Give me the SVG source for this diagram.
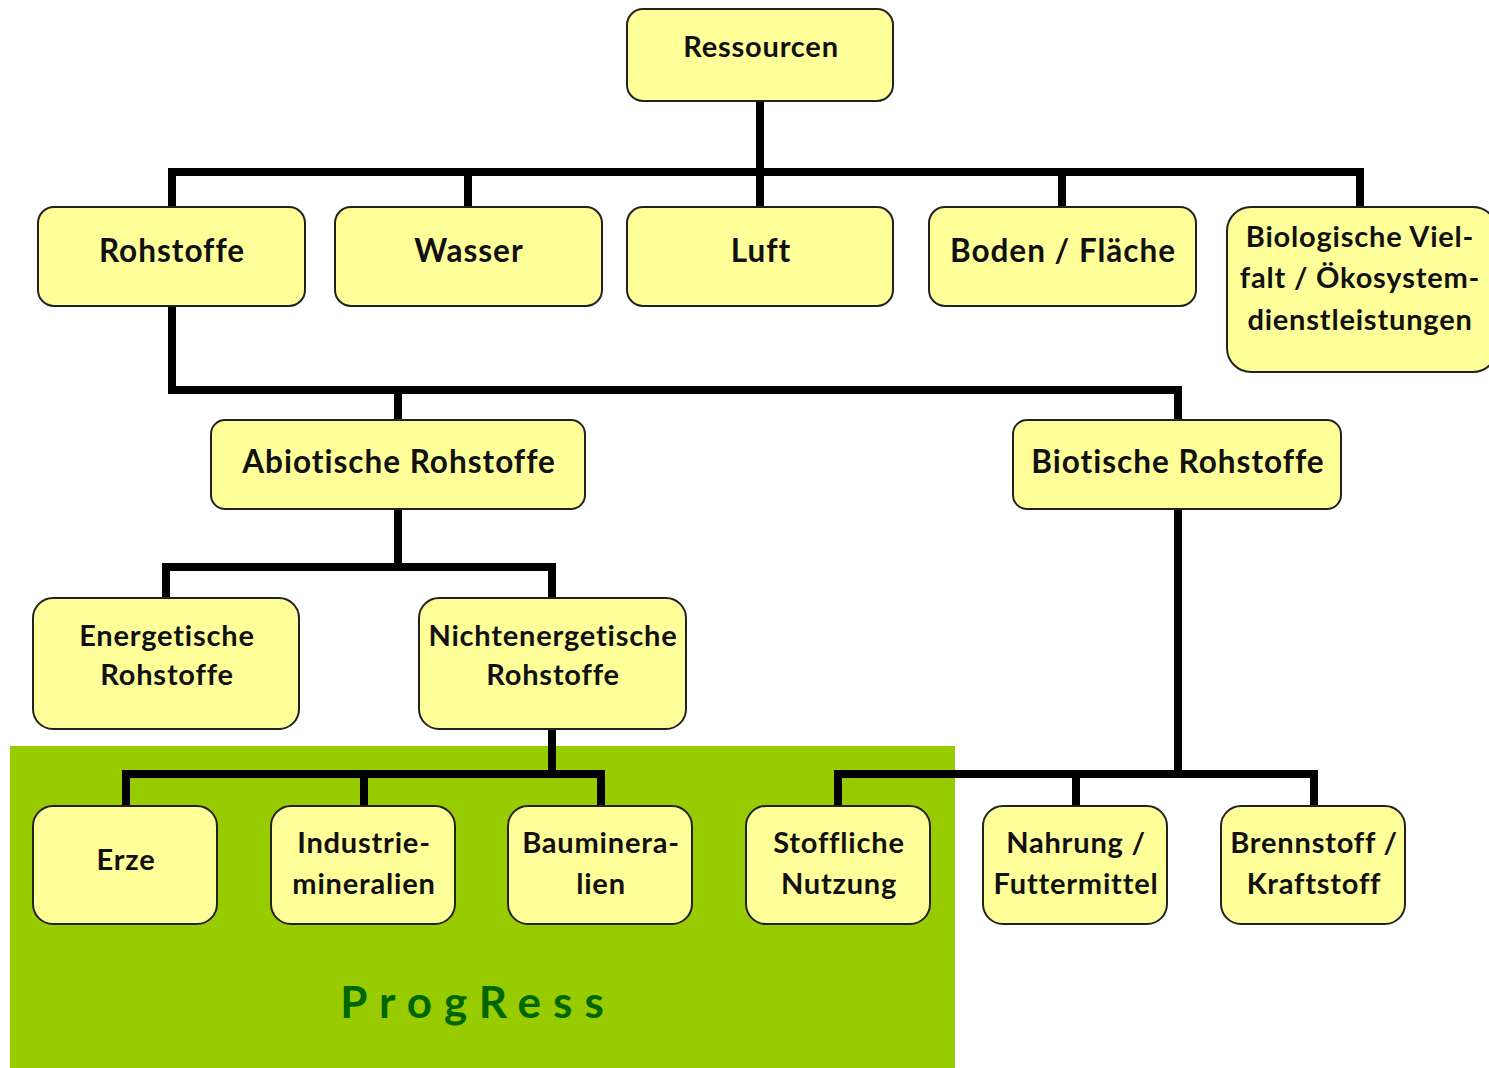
<svg xmlns="http://www.w3.org/2000/svg" width="1489" height="1068" viewBox="0 0 1489 1068">
<style>
.n{fill:#ffff99;stroke:#222;stroke-width:2}
.t{font-family:Lato,"Open Sans","Liberation Sans",sans-serif;font-weight:bold;fill:#111;text-anchor:middle}
.s28{font-size:29px;letter-spacing:0.8px}
.s30{font-size:31.5px;letter-spacing:1px}
.c{fill:none;stroke:#000;stroke-width:8;stroke-linejoin:miter;stroke-linecap:square}
</style>
<rect x="10" y="746" width="945" height="322" fill="#99cc00"/>
<text x="478" y="1018" font-family="Lato,'Open Sans',sans-serif" font-weight="bold" font-size="44" letter-spacing="12" fill="#006600" text-anchor="middle">ProgRess</text>
<g id="connectors">
<path class="c" d="M760 101V207M172 207V172H1360V207M468 172V207M1062 172V207"/>
<path class="c" d="M172 306V390H1178V420M398 390V420"/>
<path class="c" d="M398 509V567M166 598V567H552V598"/>
<path class="c" d="M552 729V774M126 806V774H601V806M364 774V806"/>
<path class="c" d="M1178 509V774M838 806V774H1314V806M1076 774V806"/>
</g>
<g id="ressourcen"><rect class="n" x="627" y="9" width="266" height="92" rx="16"/><text class="t s28" x="761" y="57">Ressourcen</text></g>
<g id="rohstoffe"><rect class="n" x="38" y="207" width="267" height="99" rx="16"/><text class="t s30" x="172" y="262">Rohstoffe</text></g>
<g id="wasser"><rect class="n" x="335" y="207" width="267" height="99" rx="16"/><text class="t s30" x="469" y="262">Wasser</text></g>
<g id="luft"><rect class="n" x="627" y="207" width="266" height="99" rx="16"/><text class="t s30" x="761" y="262">Luft</text></g>
<g id="boden"><rect class="n" x="929" y="207" width="267" height="99" rx="16"/><text class="t s30" x="1063" y="262">Boden / Fläche</text></g>
<g id="biovielfalt"><rect class="n" x="1227" y="207" width="270" height="165" rx="24"/><text class="t s28" x="1360" y="247">Biologische Viel-</text><text class="t s28" x="1360" y="288">falt / Ökosystem-</text><text class="t s28" x="1360" y="330">dienstleistungen</text></g>
<g id="abiotisch"><rect class="n" x="211" y="420" width="374" height="89" rx="14"/><text class="t s30" x="399" y="473">Abiotische Rohstoffe</text></g>
<g id="biotisch"><rect class="n" x="1013" y="420" width="328" height="89" rx="14"/><text class="t s30" x="1178" y="473">Biotische Rohstoffe</text></g>
<g id="energetisch"><rect class="n" x="33" y="598" width="266" height="131" rx="20"/><text class="t s28" x="167" y="646">Energetische</text><text class="t s28" x="167" y="685">Rohstoffe</text></g>
<g id="nichtenergetisch"><rect class="n" x="419" y="598" width="267" height="131" rx="20"/><text class="t s28" x="553" y="646">Nichtenergetische</text><text class="t s28" x="553" y="685">Rohstoffe</text></g>
<g id="erze"><rect class="n" x="33" y="806" width="184" height="118" rx="20"/><text class="t s28" x="126" y="870">Erze</text></g>
<g id="industrie"><rect class="n" x="271" y="806" width="184" height="118" rx="20"/><text class="t s28" x="364" y="853">Industrie-</text><text class="t s28" x="364" y="894">mineralien</text></g>
<g id="bau"><rect class="n" x="508" y="806" width="184" height="118" rx="20"/><text class="t s28" x="601" y="853">Bauminera-</text><text class="t s28" x="601" y="894">lien</text></g>
<g id="stofflich"><rect class="n" x="746" y="806" width="184" height="118" rx="20"/><text class="t s28" x="839" y="853">Stoffliche</text><text class="t s28" x="839" y="894">Nutzung</text></g>
<g id="nahrung"><rect class="n" x="983" y="806" width="184" height="118" rx="20"/><text class="t s28" x="1076" y="853">Nahrung /</text><text class="t s28" x="1076" y="894">Futtermittel</text></g>
<g id="brennstoff"><rect class="n" x="1221" y="806" width="184" height="118" rx="20"/><text class="t s28" x="1314" y="853">Brennstoff /</text><text class="t s28" x="1314" y="894">Kraftstoff</text></g>
</svg>
